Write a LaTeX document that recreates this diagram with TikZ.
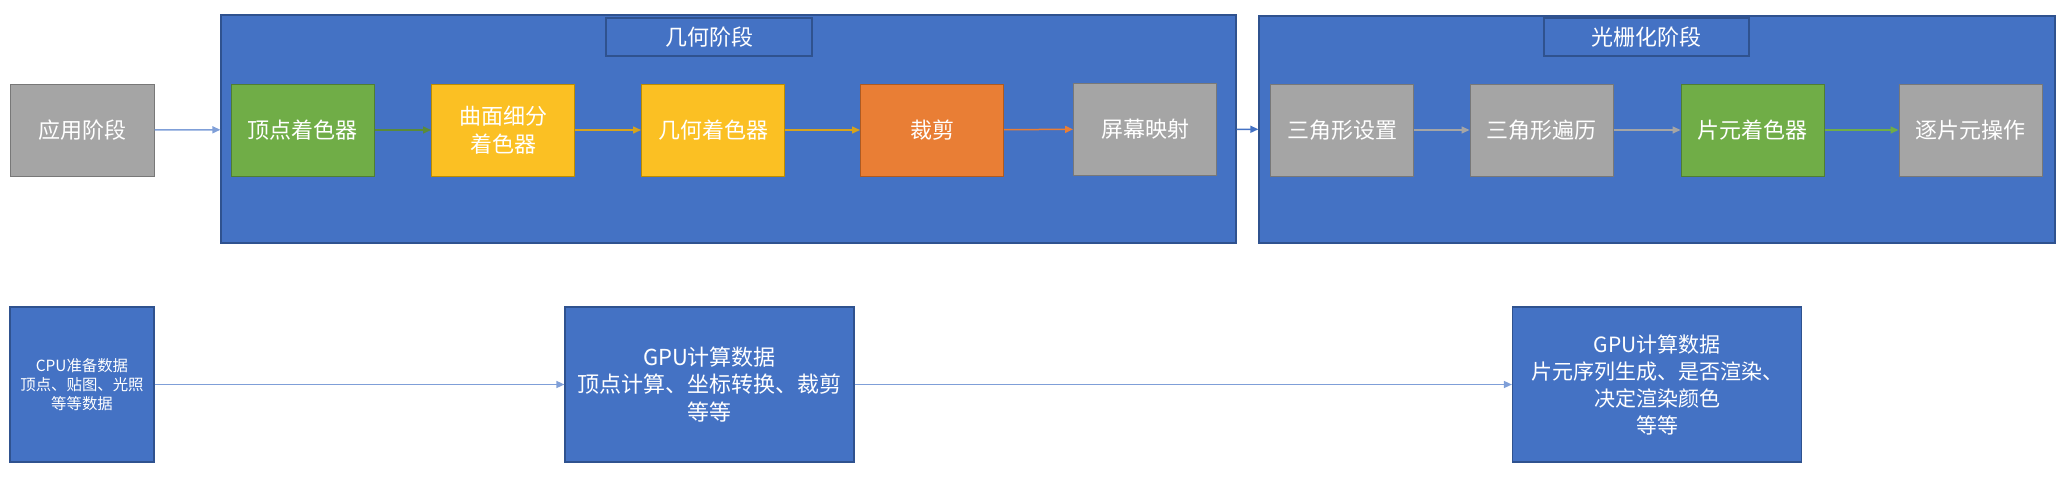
\documentclass[tikz,border=0pt]{standalone}
\usepackage{fontspec}
\setmainfont{Noto Sans CJK SC}
\usetikzlibrary{arrows.meta}

\definecolor{stageBlue}{HTML}{4472C4}
\definecolor{stageNavy}{HTML}{2F528F}
\definecolor{linkBlue}{HTML}{7F9FD8}
\definecolor{grayFill}{HTML}{A5A5A5}
\definecolor{grayLine}{HTML}{787878}
\definecolor{greenFill}{HTML}{70AD47}
\definecolor{greenLine}{HTML}{507E32}
\definecolor{goldFill}{HTML}{FBC023}
\definecolor{goldLine}{HTML}{BC8C00}
\definecolor{orangeFill}{HTML}{E97E35}
\definecolor{orangeLine}{HTML}{AE5A21}

\begin{document}
\begin{tikzpicture}[x=1pt, y=-1pt,
    box/.style={draw, line width=1pt, inner sep=0pt, minimum width=143pt, minimum height=92pt,
        text=white, align=center, font=\fontsize{22}{28}\selectfont},
    graybox/.style={box, fill=grayFill, draw=grayLine},
    greenbox/.style={box, fill=greenFill, draw=greenLine},
    goldbox/.style={box, fill=goldFill, draw=goldLine},
    orangebox/.style={box, fill=orangeFill, draw=orangeLine},
    stage/.style={draw=stageNavy, fill=stageBlue, line width=1.2pt, inner sep=0pt},
    stagetitle/.style={stage, minimum width=206pt, minimum height=38pt, text=white,
        font=\fontsize{22}{28}\selectfont},
    databox/.style={stage, minimum height=155pt, text=white, align=center},
    link/.style={line width=1.5pt, -{Triangle[length=8pt, width=7pt]}}]
    \useasboundingbox (0,0) rectangle (2071,479);

    % Application stage
    \node[graybox, minimum width=144pt] (app) at (82,130) {应用阶段};

    % Geometry stage
    \node[stage, minimum width=1015pt, minimum height=228pt] (geo) at (728.5,129) {};
    \node[stagetitle] (geotitle) at (709,37) {几何阶段};
    \node[greenbox] (vs) at (302.5,130) {顶点着色器};
    \node[goldbox] (tess) at (503,130) {曲面细分\\着色器};
    \node[goldbox] (gs) at (713,130) {几何着色器};
    \node[orangebox] (clip) at (932,130) {裁剪};
    \node[graybox] (screen) at (1145,129) {屏幕映射};

    % Rasterization stage
    \node[stage, minimum width=796pt, minimum height=227pt] (ras) at (1657,129.5) {};
    \node[stagetitle, minimum width=205pt] (rastitle) at (1646.5,37) {光栅化阶段};
    \node[graybox] (tri) at (1342,130) {三角形设置};
    \node[graybox] (trav) at (1541.5,130) {三角形遍历};
    \node[greenbox] (fs) at (1752.5,130) {片元着色器};
    \node[graybox] (perfrag) at (1970.5,130) {逐片元操作};

    \draw[link, linkBlue] (app) -- (geo);
    \draw[link, greenFill!80!black] (vs) -- (tess);
    \draw[link, goldFill!85!black] (tess) -- (gs);
    \draw[link, goldFill!85!black] (gs) -- (clip);
    \draw[link, orangeFill] (clip) -- (screen);
    \draw[link, stageBlue] (geo) -- (ras);
    \draw[link, grayFill] (tri) -- (trav);
    \draw[link, grayFill] (trav) -- (fs);
    \draw[link, greenFill] (fs) -- (perfrag);

    % Data flow
    \node[databox, minimum width=144pt, font=\fontsize{15.4}{19}\selectfont] (cpu) at (82,384.5)
        {CPU准备数据\\顶点、贴图、光照\\等等数据};
    \node[databox, minimum width=289pt, font=\fontsize{22}{27.5}\selectfont] (gpugeo) at (709.5,384.5)
        {GPU计算数据\\顶点计算、坐标转换、裁剪\\等等};
    \node[databox, minimum width=289pt, font=\fontsize{21}{27}\selectfont] (gpuras) at (1657,384.5)
        {GPU计算数据\\片元序列生成、是否渲染、\\决定渲染颜色\\等等};

    \draw[link, linkBlue] (cpu) -- (gpugeo);
    \draw[link, linkBlue] (gpugeo) -- (gpuras);
\end{tikzpicture}
\end{document}
